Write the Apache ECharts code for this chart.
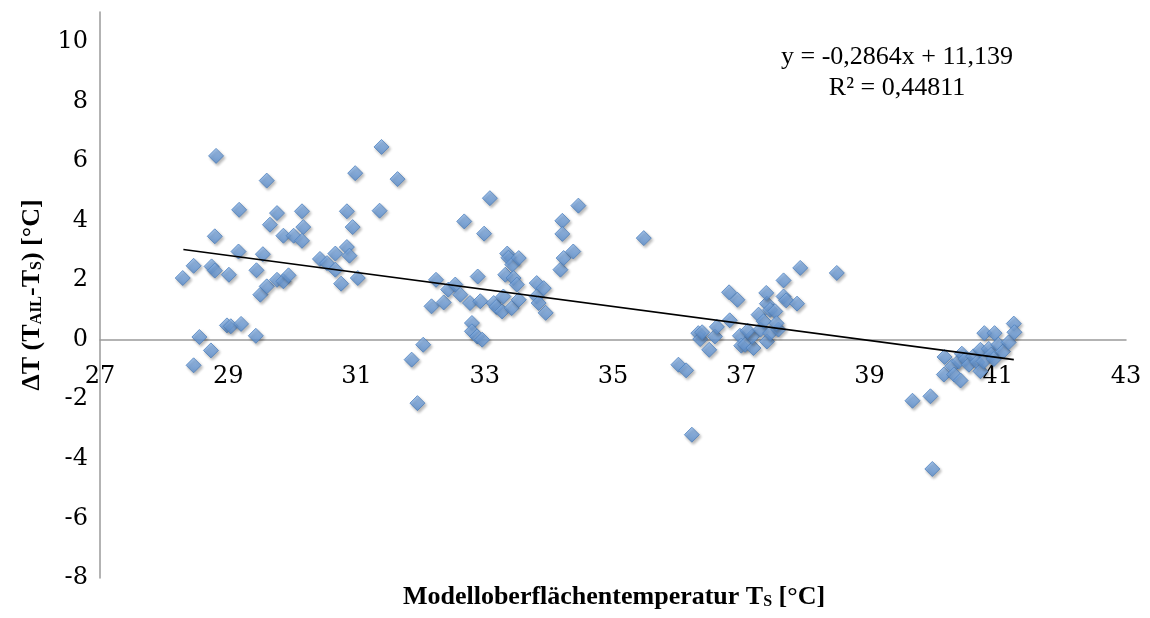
<!DOCTYPE html>
<html>
<head>
<meta charset="utf-8">
<script src="https://cdn.jsdelivr.net/npm/echarts@6/dist/echarts.min.js"></script>
<style>html,body{margin:0;padding:0;background:#fff}#c{width:1150px;height:618px}</style>
</head>
<body>
<div id="c"></div>
<script>
// Measured points: [Modelloberflächentemperatur T_S, ΔT]
const pointsLeft = [
  [28.29,2.07],[28.46,2.48],[28.46,-0.86],[28.55,0.09],[28.73,-0.36],[28.74,2.46],[28.79,2.32],[28.79,3.47],
  [28.81,6.17],[28.98,0.48],[29.01,2.18],[29.04,0.45],[29.16,2.96],[29.17,4.36],[29.2,0.53],[29.43,0.13],
  [29.44,2.33],[29.5,1.51],[29.54,2.87],[29.6,1.79],[29.6,5.34],[29.65,3.86],[29.76,4.25],[29.76,2.01],
  [29.86,3.49],[29.86,1.96],[29.94,2.16],[30.02,3.49],[30.15,4.31],[30.17,3.78],[30.15,3.32],[30.43,2.71],
  [30.54,2.57],[30.67,2.89],[30.67,2.35],[30.76,1.88],[30.85,4.31],[30.85,3.11],[30.89,2.82],[30.94,3.78],
  [30.98,5.59],[31.02,2.07],[31.36,4.33],[31.39,6.47],[31.64,5.39]
];
const pointsMiddle = [
  [31.86,-0.67],[31.95,-2.13],[32.04,-0.17],[32.17,1.12],[32.24,2.01],[32.36,1.25],[32.43,1.68],[32.54,1.85],
  [32.62,1.51],[32.68,3.97],[32.77,1.23],[32.8,0.56],[32.8,0.28],[32.88,0.11],[32.96,0.0],[32.89,2.12],
  [32.93,1.29],[32.99,3.56],[33.08,4.75],[33.14,1.23],[33.18,1.1],[33.27,0.95],[33.29,1.45],[33.32,2.18],
  [33.35,2.89],[33.37,2.75],[33.43,2.52],[33.42,1.06],[33.45,2.07],[33.5,1.85],[33.53,2.74],[33.53,1.34],
  [33.81,1.9],[33.81,1.45],[33.84,1.23],[33.92,1.73],[33.95,0.9],[34.18,2.35],[34.21,3.99],[34.21,3.55],
  [34.23,2.74],[34.38,2.96],[34.46,4.5],[35.48,3.41]
];
const pointsRight = [
  [36.02,-0.84],[36.14,-1.03],[36.23,-3.19],[36.33,0.22],[36.36,0.02],[36.39,0.25],[36.5,-0.34],[36.59,0.11],
  [36.62,0.43],[36.81,1.59],[36.82,0.65],[36.94,1.34],[36.98,0.13],[37.0,-0.2],[37.06,-0.17],[37.19,-0.28],
  [37.17,0.11],[37.1,0.3],[37.27,0.84],[37.3,0.34],[37.35,0.62],[37.4,1.21],[37.39,1.57],[37.4,-0.06],
  [37.45,0.22],[37.45,1.0],[37.53,0.95],[37.58,0.34],[37.55,0.55],[37.66,1.99],[37.66,1.45],[37.7,1.32],
  [37.87,1.21],[37.92,2.41],[38.49,2.24]
];
const pointsFarRight = [
  [39.67,-2.05],[39.95,-1.9],[39.98,-4.34],[40.16,-1.17],[40.17,-0.58],[40.29,-0.89],[40.32,-1.17],[40.39,-0.73],
  [40.42,-1.37],[40.44,-0.47],[40.5,-0.65],[40.55,-0.84],[40.62,-0.56],[40.68,-0.75],[40.73,-0.34],[40.73,-1.06],
  [40.78,-0.73],[40.79,0.22],[40.86,-0.31],[40.9,-0.5],[40.94,-0.65],[40.95,0.22],[41.01,-0.17],[41.08,-0.4],
  [41.17,-0.09],[41.25,0.54],[41.26,0.25]
];
// Linear trend line endpoints (y = -0,2864x + 11,139)
const trendLine = [[28.3, 3.03], [41.25, -0.67]];
const equationText = 'y = -0,2864x + 11,139';
const r2Text = 'R² = 0,44811';
const xAxisRange = [27, 43];
const yAxisRange = [-8, 11];

const allPoints = pointsLeft.concat(pointsMiddle, pointsRight, pointsFarRight);
const serif = '"Liberation Serif", "DejaVu Serif", serif';
const tickFont = '"DejaVu Serif", serif';

const gridTop = 12, gridBottom = 40, H = 618;
// pixel offset needed to lift the x axis (labels included) up to the y = 0 line
const plotH = H - gridTop - gridBottom;
const zeroLift = plotH * (0 - yAxisRange[0]) / (yAxisRange[1] - yAxisRange[0]);

const titleRich = {
  a: { fontFamily: serif, fontWeight: 'bold', fontSize: 26, color: '#000' },
  s: { fontFamily: serif, fontWeight: 'bold', fontSize: 16, color: '#000', verticalAlign: 'bottom', padding: [10,0,0,0] }
};

const chart = echarts.init(document.getElementById('c'));
chart.setOption({
  animation: false,
  grid: { left: 100, right: 24, top: gridTop, bottom: gridBottom, containLabel: false, outerBoundsMode: 'none' },
  xAxis: {
    type: 'value', min: xAxisRange[0], max: xAxisRange[1], interval: 2,
    offset: -zeroLift,
    splitLine: { show: false },
    axisTick: { show: false },
    axisLine: { onZero: false, lineStyle: { color: '#9a9a9a', width: 1.5 } },
    axisLabel: { color: '#000', fontFamily: tickFont, fontSize: 24, margin: 25 }
  },
  yAxis: {
    type: 'value', min: yAxisRange[0], max: yAxisRange[1], interval: 2,
    splitLine: { show: false },
    axisTick: { show: false },
    axisLine: { show: true, onZero: false, lineStyle: { color: '#9a9a9a', width: 1.5 } },
    axisLabel: { color: '#000', fontFamily: tickFont, fontSize: 24, margin: 12, showMaxLabel: false },
    name: '{a|ΔT (T}{s|AIL}{a|-T}{s|S}{a|) [°C]}',
    nameLocation: 'middle', nameGap: 55, nameRotate: 90,
    nameTextStyle: { rich: titleRich }
  },
  graphic: [
    { type: 'text', style: { text: equationText, x: 897, y: 57, align: 'center', verticalAlign: 'middle', font: '26px ' + serif, fill: '#000' } },
    { type: 'text', style: { text: r2Text, x: 897, y: 88, align: 'center', verticalAlign: 'middle', font: '26px ' + serif, fill: '#000' } },
    { type: 'text', style: {
        text: '{a|Modelloberflächentemperatur T}{s|S}{a| [°C]}',
        rich: titleRich, x: 614, y: 597, align: 'center', verticalAlign: 'middle'
    } }
  ],
  series: [
    {
      type: 'scatter', data: allPoints, symbol: 'diamond', symbolSize: 15,
      itemStyle: {
        color: new echarts.graphic.LinearGradient(0, 0, 0, 1, [
          { offset: 0, color: '#8fb8ea' }, { offset: 1, color: '#5b8fd0' }
        ]),
        borderColor: '#4f81bd', borderWidth: 1,
        shadowBlur: 3, shadowOffsetX: 1.5, shadowOffsetY: 2, shadowColor: 'rgba(0,0,0,0.35)'
      },
      z: 2
    },
    {
      type: 'line', data: trendLine, symbol: 'none',
      lineStyle: { color: '#000', width: 1.6 }, z: 3
    }
  ]
});
</script>
</body>
</html>
